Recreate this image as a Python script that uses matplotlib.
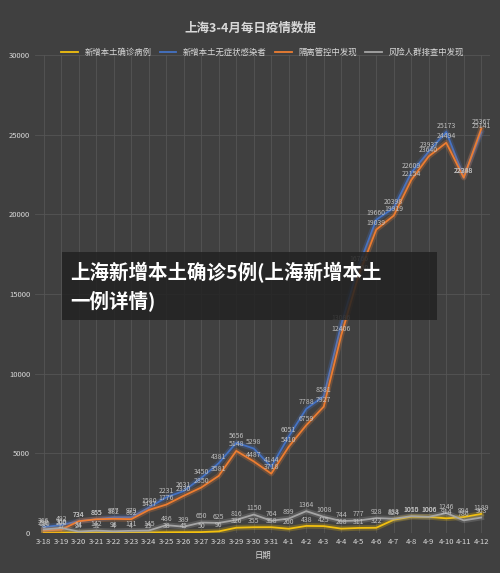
import matplotlib.pyplot as plt
from matplotlib.patches import Rectangle

plt.rcParams['font.family'] = ['Noto Sans CJK SC', 'DejaVu Sans']

dates = ['3-18', '3-19', '3-20', '3-21', '3-22', '3-23', '3-24', '3-25', '3-26', '3-27', '3-28', '3-29', '3-30',
         '3-31', '4-1', '4-2', '4-3', '4-4', '4-5', '4-6', '4-7', '4-8', '4-9', '4-10', '4-11', '4-12']
confirmed = [8, 17, 24, 31, 4, 4, 29, 38, 45, 50, 96, 326, 355, 358, 260, 438, 425, 268, 311, 322,
             824, 1015, 1006, 914, 994, 1189]
asymptomatic = [366, 492, 734, 865, 977, 979, 1580, 2231, 2631, 3450, 4381, 5656, 5298, 4144, 6051, 7788,
                8581, 13086, 16766, 19660, 20398, 22609, 23937, 25173, 22348, 25141]
quarantine = [150, 200, 734, 855, 882, 862, 1437, 1776, 2330, 2850, 3581, 5148, 4487, 3718, 5410, 6759,
              7927, 12406, 16200, 19039, 19919, 22154, 23640, 24494, 22298, 25367]
screening = [216, 309, 84, 142, 98, 131, 145, 486, 389, 650, 625, 816, 1150, 764, 899, 1364, 1008, 744,
             777, 928, 888, 1050, 1006, 1246, 786, 963]

series = [
    ('新增本土确诊病例', confirmed, '#f2c00f'),
    ('新增本土无症状感染者', asymptomatic, '#4472c4'),
    ('隔离管控中发现', quarantine, '#ed7d31'),
    ('风险人群排查中发现', screening, '#a5a5a5'),
]

bg = '#404040'
fig = plt.figure(figsize=(5, 5.73), dpi=100, facecolor=bg)
ax = fig.add_axes([0.07, 0.07, 0.91, 0.834])
ax.set_facecolor(bg)

x = list(range(len(dates)))
for name, vals, col in series:
    ax.plot(x, vals, color=col, lw=4, alpha=0.25)
    ax.plot(x, vals, color=col, lw=1.3, label=name)
    for xi, v in zip(x, vals):
        ax.text(xi, v + 150, str(v), color='#bfbfbf', fontsize=5, ha='center', va='bottom')

ax.set_xlim(-0.5, len(dates) - 0.5)
ax.set_ylim(0, 30000)
ax.set_yticks(range(0, 30001, 5000))
ax.set_xticks(x)
ax.set_xticklabels(dates)
ax.tick_params(colors='#d9d9d9', labelsize=5.5, length=0)
ax.grid(color='#555555', lw=0.6)
ax.set_axisbelow(True)
for s in ax.spines.values():
    s.set_visible(False)
ax.set_xlabel('日期', color='#d9d9d9', fontsize=6)

fig.text(0.5, 0.945, '上海3-4月每日疫情数据', color='#d9d9d9', fontsize=9, ha='center', weight='bold')
ax.legend(loc='lower center', bbox_to_anchor=(0.5, 0.99), ncol=4, frameon=False, fontsize=6,
          labelcolor='#d9d9d9', handlelength=2, columnspacing=1, borderaxespad=0)

fig.patches.append(Rectangle((0.124, 0.442), 0.75, 0.118, transform=fig.transFigure,
                             facecolor='#222222', alpha=0.85, zorder=5))
fig.text(0.14, 0.525, '上海新增本土确诊5例(上海新增本土', color='white', fontsize=14, weight='bold',
         va='center', zorder=6)
fig.text(0.14, 0.475, '一例详情)', color='white', fontsize=14, weight='bold', va='center', zorder=6)

fig.savefig('out.png', facecolor=bg)
